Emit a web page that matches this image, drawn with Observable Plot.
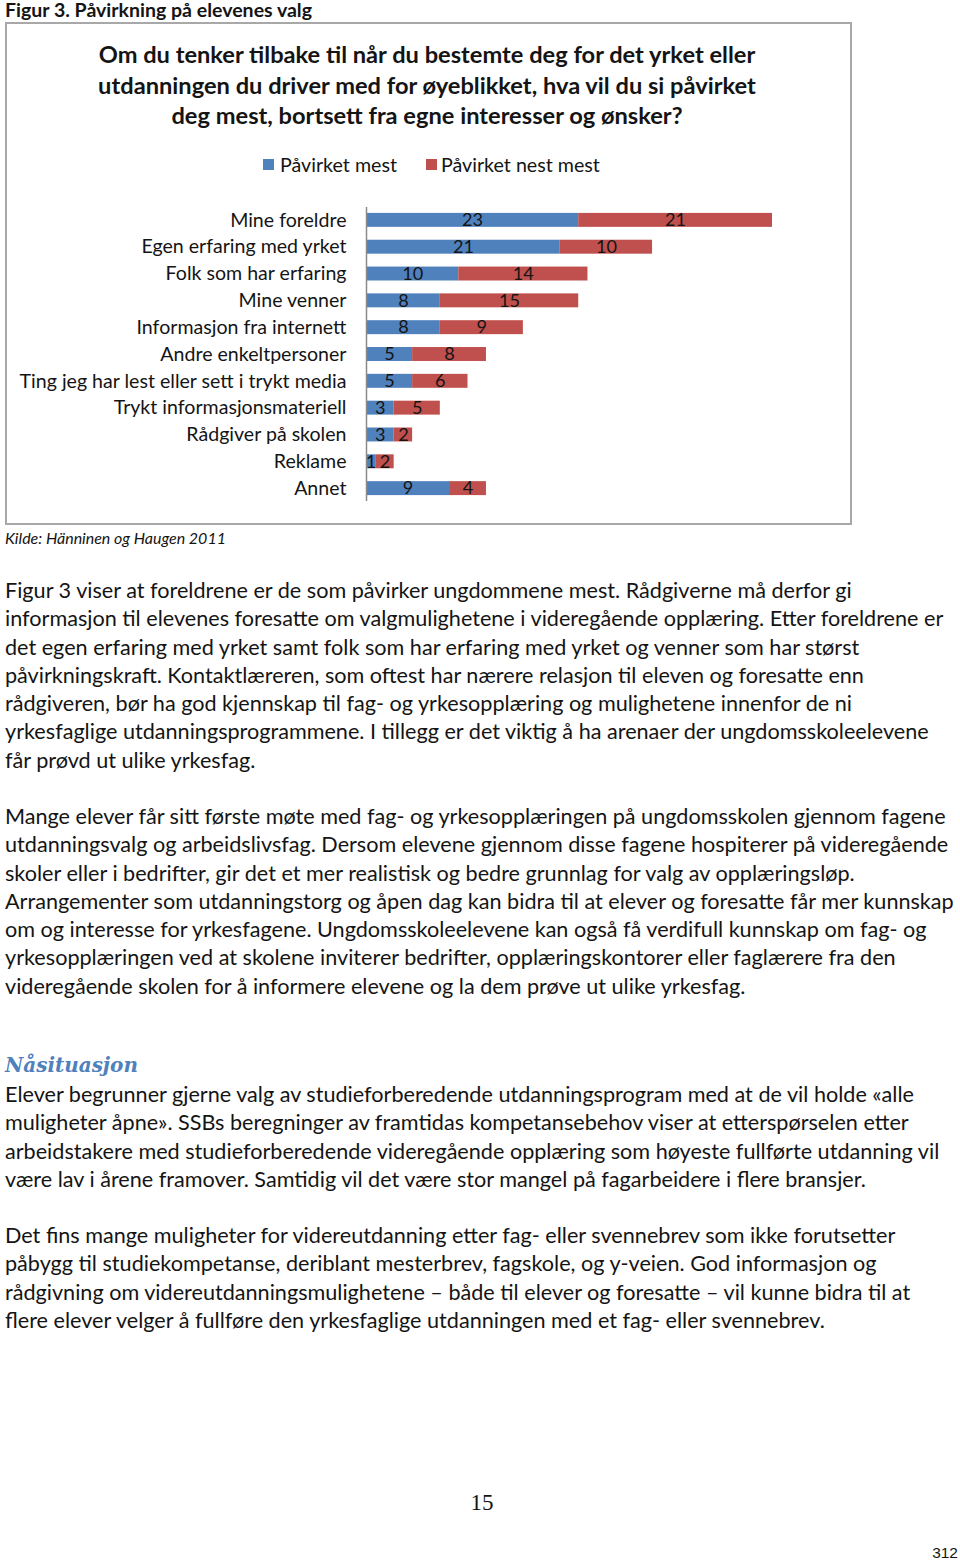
<!DOCTYPE html>
<html><head><meta charset="utf-8">
<script src="https://cdn.jsdelivr.net/npm/d3@7"></script>
<script src="https://cdn.jsdelivr.net/npm/@observablehq/plot@0.6"></script>
<style>
html,body{margin:0;padding:0;background:#fff}
body{width:960px;height:1563px;position:relative;overflow:hidden;color:#141414}
.abs{position:absolute;white-space:nowrap}
</style></head><body>
<script>
// ---- chart data ----
const categories = ["Mine foreldre","Egen erfaring med yrket","Folk som har erfaring","Mine venner","Informasjon fra internett","Andre enkeltpersoner","Ting jeg har lest eller sett i trykt media","Trykt informasjonsmateriell","Rådgiver på skolen","Reklame","Annet"];
const mest = [23,21,10,8,8,5,5,3,3,1,9];
const nestMest = [21,10,14,15,9,8,6,5,2,2,4];
const series = ["Påvirket mest","Påvirket nest mest"];
const seriesColors = ["#4f81bd","#c0504d"];

// ---- page texts ----
const figCaption = "Figur 3. Påvirkning på elevenes valg";
const titleLines = ["Om du tenker tilbake til når du bestemte deg for det yrket eller","utdanningen du driver med for øyeblikket, hva vil du si påvirket","deg mest, bortsett fra egne interesser og ønsker?"];
const source = "Kilde: Hänninen og Haugen 2011";
const para1 = ["Figur 3 viser at foreldrene er de som påvirker ungdommene mest. Rådgiverne må derfor gi","informasjon til elevenes foresatte om valgmulighetene i videregående opplæring. Etter foreldrene er","det egen erfaring med yrket samt folk som har erfaring med yrket og venner som har størst","påvirkningskraft. Kontaktlæreren, som oftest har nærere relasjon til eleven og foresatte enn","rådgiveren, bør ha god kjennskap til fag- og yrkesopplæring og mulighetene innenfor de ni","yrkesfaglige utdanningsprogrammene. I tillegg er det viktig å ha arenaer der ungdomsskoleelevene","får prøvd ut ulike yrkesfag."];
const para2 = ["Mange elever får sitt første møte med fag- og yrkesopplæringen på ungdomsskolen gjennom fagene","utdanningsvalg og arbeidslivsfag. Dersom elevene gjennom disse fagene hospiterer på videregående","skoler eller i bedrifter, gir det et mer realistisk og bedre grunnlag for valg av opplæringsløp.","Arrangementer som utdanningstorg og åpen dag kan bidra til at elever og foresatte får mer kunnskap","om og interesse for yrkesfagene. Ungdomsskoleelevene kan også få verdifull kunnskap om fag- og","yrkesopplæringen ved at skolene inviterer bedrifter, opplæringskontorer eller faglærere fra den","videregående skolen for å informere elevene og la dem prøve ut ulike yrkesfag."];
const heading = "Nåsituasjon";
const para3 = ["Elever begrunner gjerne valg av studieforberedende utdanningsprogram med at de vil holde «alle","muligheter åpne». SSBs beregninger av framtidas kompetansebehov viser at etterspørselen etter","arbeidstakere med studieforberedende videregående opplæring som høyeste fullførte utdanning vil","være lav i årene framover. Samtidig vil det være stor mangel på fagarbeidere i flere bransjer."];
const para4 = ["Det fins mange muligheter for videreutdanning etter fag- eller svennebrev som ikke forutsetter","påbygg til studiekompetanse, deriblant mesterbrev, fagskole, og y-veien. God informasjon og","rådgivning om videreutdanningsmulighetene – både til elever og foresatte – vil kunne bidra til at","flere elever velger å fullføre den yrkesfaglige utdanningen med et fag- eller svennebrev."];
const pageNum = "15";
const pdfPage = "312";

// ---- helpers ----
const FONT = "Lato";
const cv = document.createElement("canvas").getContext("2d");
function fit(text, style, weight, family, target){
  cv.font = `${style} ${weight} 100px ${family}`;
  return 100*target/cv.measureText(text).width;
}
function put(text, o){
  const d = document.createElement("div");
  d.className = "abs"; d.textContent = text;
  const size = o.size, lh = size*1.2;
  d.style.font = `${o.style||"normal"} ${o.weight||"normal"} ${size}px ${o.family||FONT}`;
  d.style.lineHeight = lh+"px";
  d.style.top = (o.y - lh/2)+"px";
  d.style.color = o.color || "#141414";
  if (o.anchor === "middle") { d.style.left = o.x+"px"; d.style.transform = "translateX(-50%)"; }
  else if (o.anchor === "end") { d.style.right = (960 - o.x)+"px"; }
  else d.style.left = o.x+"px";
  document.body.appendChild(d);
  return d;
}

// caption
put(figCaption, {x:5, y:10, size: fit(figCaption,"normal","bold",FONT,308), weight:"bold"});

// chart frame
const frame = document.createElement("div");
frame.style.cssText = "position:absolute;left:5px;top:22px;width:847px;height:503px;border:2px solid #a8a8a8;box-sizing:border-box";
document.body.appendChild(frame);

// title
const tSize = fit(titleLines[0],"normal","bold",FONT,659);
[54,85,115].forEach((y,i)=>put(titleLines[i], {x:427, y, size:tSize, weight:"bold", anchor:"middle"}));

// legend
const legSize = fit(series[1],"normal","normal",FONT,159);
[[263,280],[426,441]].forEach(([sx,tx],i)=>{
  const sq = document.createElement("div");
  sq.style.cssText = `position:absolute;left:${sx}px;top:159px;width:11px;height:11px;background:${seriesColors[i]}`;
  document.body.appendChild(sq);
  put(series[i], {x:tx, y:165, size:legSize});
});

// chart
const rows = categories.flatMap((c,i)=>[
  {cat:c, series:series[0], value:mest[i]},
  {cat:c, series:series[1], value:nestMest[i]}
]);
const catSize = fit(categories[6],"normal","normal",FONT,328);
const labSize = fit("23","normal","normal",FONT,21);
const chart = Plot.plot({
  width: 840, height: 330,
  marginLeft: 360, marginRight: 74, marginTop: 17, marginBottom: 19,
  style: {fontFamily: FONT, fontSize: catSize+"px", color:"#141414", background:"transparent", overflow:"visible"},
  x: {domain:[0,44], axis:null},
  y: {domain: categories, paddingInner:0.48, paddingOuter:0.22, round:false, label:null},
  color: {domain: series, range: seriesColors},
  marks: [
    Plot.barX(rows, Plot.stackX({x:"value", y:"cat", fill:"series"})),
    Plot.textX(rows, Plot.stackX({x:"value", y:"cat", z:"series", text: d=>String(d.value), fill:"#141414", fontSize: labSize})),
    Plot.ruleX([0], {stroke:"#8a8a8a", strokeWidth:1.5}),
    Plot.axisY({tickSize:0, tickPadding:20, label:null, fontSize: catSize, fill:"#141414"})
  ]
});
chart.style.position = "absolute"; chart.style.left = "6px"; chart.style.top = "190px";
document.body.appendChild(chart);

// source
put(source, {x:5, y:538, size: fit(source,"italic","normal",FONT,221), style:"italic"});

// body text
const bSize = fit(para1[0],"normal","normal",FONT,850);
const step = 28.25;
para1.forEach((t,i)=>put(t,{x:5, y:591+i*step, size:bSize}));
para2.forEach((t,i)=>put(t,{x:5, y:817+i*step, size:bSize}));
put(heading, {x:5, y:1066, size: fit(heading,"italic","bold","DejaVu Serif",133), style:"italic", weight:"bold", family:"DejaVu Serif", color:"#4f81bd"});
para3.forEach((t,i)=>put(t,{x:5, y:1095+i*step, size:bSize}));
para4.forEach((t,i)=>put(t,{x:5, y:1236+i*step, size:bSize}));

put(pageNum, {x:482, y:1503, size:23, family:"'Liberation Serif'", anchor:"middle"});
put(pdfPage, {x:958, y:1553, size:15.5, family:"'Liberation Sans'", anchor:"end"});
</script>
</body></html>
